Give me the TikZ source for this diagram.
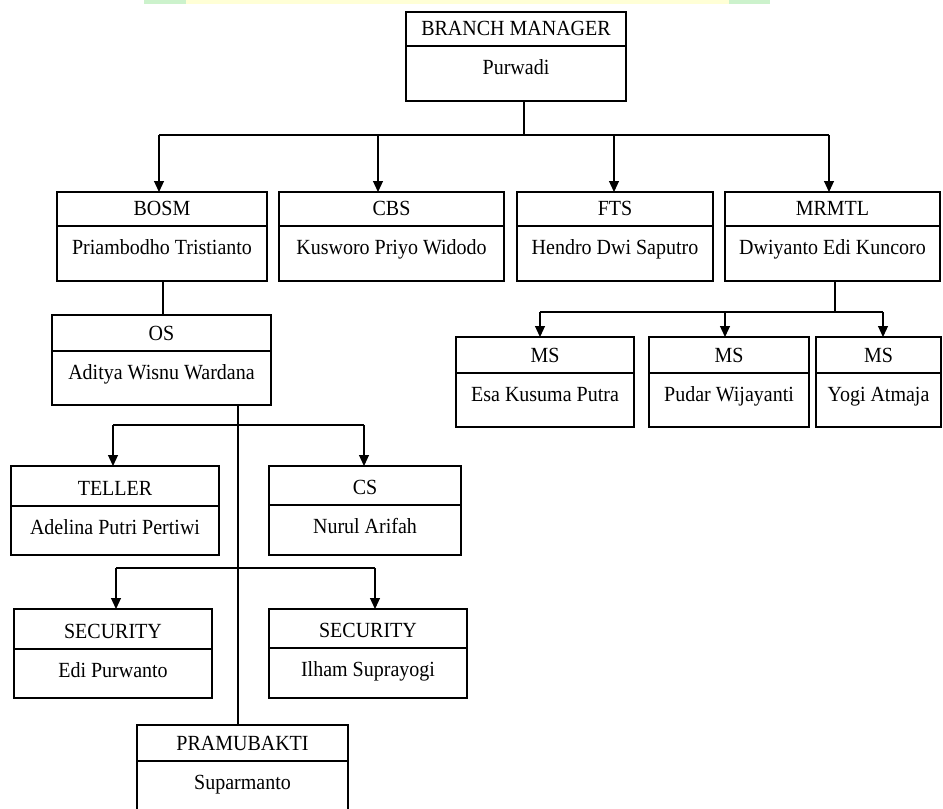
\documentclass[tikz,border=0pt]{standalone}
\usepackage{fontspec}
\setmainfont{Liberation Serif}
\usetikzlibrary{arrows.meta}
\definecolor{hlgreen}{HTML}{CCF2CC}
\definecolor{hlyellow}{HTML}{FFFFD6}
\newcommand\orgbox[8]{%
  \node[obox, minimum width={(#3-#2)*1pt}, minimum height={(#6-#4)*1pt}] (#1) at (#2,#4) {};
  \draw[divline] (#2,#5) -- (#3,#5);
  \node[ttl] (#1-t) at ({(#2+#3)/2},{#5-10.5}) {\scalebox{1}[1.08]{#7}};
  \node[ttl] (#1-n) at ({(#2+#3)/2},{#5+28.5}) {\scalebox{1}[1.08]{#8}};
}
\begin{document}
\begin{tikzpicture}[x=1pt,y=-1pt,
  obox/.style={draw, line width=1.3pt, rectangle, inner sep=0pt, outer sep=0pt, anchor=north west},
  divline/.style={line width=1.2pt},
  ttl/.style={anchor=base, inner sep=0pt, font=\fontsize{20}{24}\selectfont},
  conn/.style={line width=1.1pt},
  arr/.style={conn, -{Triangle[width=10pt,length=11pt]}}]
\path[use as bounding box, clip] (0,0) rectangle (943,809);
\fill[white] (0,0) rectangle (943,809);
% highlight strip at the top
\fill[hlgreen] (144,0) rectangle (186,4);
\fill[hlyellow] (186,0) rectangle (729,4);
\fill[hlgreen] (729,0) rectangle (770,4);

% boxes: name, left, right, top, divider, bottom, title, person
\orgbox{bm}{406}{626}{12}{46}{101}{BRANCH MANAGER}{Purwadi}
\orgbox{bosm}{57}{267}{192}{226}{281}{BOSM}{Priambodho Tristianto}
\orgbox{cbs}{279}{504}{192}{226}{281}{CBS}{Kusworo Priyo Widodo}
\orgbox{fts}{517}{713}{192}{226}{281}{FTS}{Hendro Dwi Saputro}
\orgbox{mrmtl}{725}{940}{192}{226}{281}{MRMTL}{Dwiyanto Edi Kuncoro}
\orgbox{os}{52}{271}{315}{351}{405}{OS}{Aditya Wisnu Wardana}
\orgbox{msa}{456}{634}{337}{373}{427}{MS}{Esa Kusuma Putra}
\orgbox{msb}{649}{809}{337}{373}{427}{MS}{Pudar Wijayanti}
\orgbox{msc}{816}{941}{337}{373}{427}{MS}{Yogi Atmaja}
\orgbox{teller}{11}{219}{466}{506}{555}{TELLER}{Adelina Putri Pertiwi}
\orgbox{cs}{269}{461}{466}{505}{555}{CS}{Nurul Arifah}
\orgbox{seca}{14}{212}{609}{649}{698}{SECURITY}{Edi Purwanto}
\orgbox{secb}{269}{467}{609}{648}{698}{SECURITY}{Ilham Suprayogi}
\orgbox{pra}{137}{348}{725}{761}{816}{PRAMUBAKTI}{Suparmanto}

% branch manager to level 1
\coordinate (j0) at (524,135);
\coordinate (b1a) at (159,135);
\coordinate (b1b) at (378,135);
\coordinate (b1c) at (614,135);
\coordinate (b1d) at (829,135);
\draw[conn] (j0 |- bm.south) -- (j0);
\draw[conn] (b1a) -- (b1d);
\draw[arr] (b1a) -- (b1a |- bosm.north);
\draw[arr] (b1b) -- (b1b |- cbs.north);
\draw[arr] (b1c) -- (b1c |- fts.north);
\draw[arr] (b1d) -- (b1d |- mrmtl.north);

% BOSM to OS
\coordinate (k1) at (163,0);
\draw[conn] (k1 |- bosm.south) -- (k1 |- os.north);

% MRMTL to MS
\coordinate (j2) at (835,312);
\coordinate (b2a) at (540,312);
\coordinate (b2b) at (725,312);
\coordinate (b2c) at (883,312);
\draw[conn] (j2 |- mrmtl.south) -- (j2);
\draw[conn] (b2a) -- (b2c);
\draw[arr] (b2a) -- (b2a |- msa.north);
\draw[arr] (b2b) -- (b2b |- msb.north);
\draw[arr] (b2c) -- (b2c |- msc.north);

% OS down to PRAMUBAKTI
\coordinate (k2) at (238,0);
\draw[conn] (k2 |- os.south) -- (k2 |- pra.north);

% teller / cs
\coordinate (b3a) at (113,425);
\coordinate (b3b) at (364,425);
\draw[conn] (b3a) -- (b3b);
\draw[arr] (b3a) -- (b3a |- teller.north);
\draw[arr] (b3b) -- (b3b |- cs.north);

% security
\coordinate (b4a) at (116,568);
\coordinate (b4b) at (375,568);
\draw[conn] (b4a) -- (b4b);
\draw[arr] (b4a) -- (b4a |- seca.north);
\draw[arr] (b4b) -- (b4b |- secb.north);
\end{tikzpicture}
\end{document}
